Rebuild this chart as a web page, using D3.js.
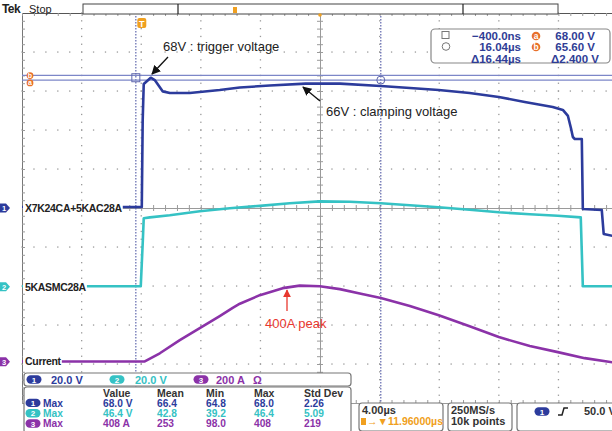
<!DOCTYPE html>
<html><head><meta charset="utf-8">
<script src="https://cdn.jsdelivr.net/npm/d3@7"></script>
<style>
html,body{margin:0;padding:0;background:#fff;}
svg{display:block;font-family:"Liberation Sans",Arial,sans-serif;}
</style></head>
<body><svg id="c" width="612" height="431"></svg>
<script>
// ---------- DATA ----------
// time in microseconds relative to trigger
const ch1Time  = [-8.04,-0.1,0.0,0.06,0.13,0.6,0.87,1.41,1.88,3.22,5.23,6.58,8.59,11.0,13.3,16.04,18.0,19.93,22.0,23.96,25.7,27.58,28.26,28.6,28.8,28.93,29.06,29.53,29.6,30.87,31.0,31.96];
const ch1Volts = [0.5,0.5,0.5,45,63.6,66.8,65.6,59.8,59.0,59.0,60.5,61.8,62.8,63.8,63.8,62.6,61.5,60.5,59.0,56.9,54.4,51.8,50.3,47.2,41.0,36.4,35.4,35.4,-0.5,-1.0,-13.3,-14.9];

const ch2Time  = [-8.04,-0.07,0.07,0.13,0.54,1.88,3.89,5.9,7.92,9.93,11.95,13.96,16.04,17.99,19.93,22.0,23.96,26.04,27.92,29.46,29.6,31.96];
const ch2Volts = [0.3,0.3,23.8,35.1,35.6,36.7,38.7,40.3,41.5,42.8,43.8,43.6,42.8,41.8,40.8,39.5,38.2,37.2,36.4,35.6,0.3,0.3];

const ch3Time  = [-8.04,0.2,1.21,2.55,3.89,5.23,6.1,6.58,7.92,9.46,10.6,11.95,13.29,14.63,16.04,17.99,19.93,22.0,23.96,26.04,27.92,29.73,31.96];
const ch3Amps  = [1,1.5,43,110,172,234,276,297,341,377,390,387,372,349,326,285,238,182,126,80,49,18,-8];

const channelNames = ["X7K24CA+5KAC28A","5KASMC28A","Current"];
const channelScales = ["20.0 V","20.0 V","200 A"];
const cursorTimes = [-0.4, 16.04];
const cursorVolts = [68.0, 65.6];
const cursorReadout = [["−400.0ns","68.00 V"],["16.04µs","65.60 V"],["Δ16.44µs","Δ2.400 V"]];
const measHeader = ["Value","Mean","Min","Max","Std Dev"];
const measRows = [
  ["68.0 V","66.4","64.8","68.0","2.26"],
  ["46.4 V","42.8","39.2","46.4","5.09"],
  ["408 A","253","98.0","408","219"]
];
const annotations = ["68V : trigger voltage","66V : clamping voltage","400A peak"];

// ---------- STYLE ----------
const C1="#2c3b9c", C2="#35c2c4", C3="#8b32a8", ORANGE="#e8702a", CURS="#7d87c8";

const svg = d3.select("#c");
const x = d3.scaleLinear().domain([-8.04,31.96]).range([22,618]);
const yDiv = d3.scaleLinear().domain([-5,5]).range([403,13]);
const ch = [
  {t:ch1Time, v:ch1Volts, per:20, pos:0, color:C1},
  {t:ch2Time, v:ch2Volts, per:20, pos:-2.02, color:C2},
  {t:ch3Time, v:ch3Amps, per:200, pos:-3.94, color:C3}
];
const yOf = (c,val)=> yDiv(c.pos + val/c.per);

// ---------- GRID ----------
const g = svg.append("g");
const majorX = d3.range(-8.04, 32, 4);
const majorY = d3.range(-5, 5.01, 1);
const minorX = d3.range(-8.04, 32, 0.8);
const minorY = d3.range(-5, 5.01, 0.2);
majorX.forEach((t,i)=>{ if(i===0||i===5) return;
  minorY.forEach(d=> g.append("rect").attr("x",x(t)-0.6).attr("y",yDiv(d)-0.6).attr("width",1.3).attr("height",1.3).attr("fill","#9a9a9a"));
});
majorY.forEach((d,i)=>{ if(Math.abs(d)<1e-6||d>4.9||d<-4.9) return;
  minorX.forEach(t=> g.append("rect").attr("x",x(t)-0.6).attr("y",yDiv(d)-0.6).attr("width",1.3).attr("height",1.3).attr("fill","#9a9a9a"));
});
const tCenter = 11.96;
const axes = [
  g.append("g").attr("transform",`translate(0,${yDiv(0)})`).call(d3.axisBottom(x).tickValues(minorX).tickSize(3).tickFormat("")),
  g.append("g").attr("transform",`translate(0,${yDiv(0)})`).call(d3.axisTop(x).tickValues(minorX).tickSize(3).tickFormat("")),
  g.append("g").attr("transform",`translate(${x(tCenter)},0)`).call(d3.axisLeft(yDiv).tickValues(minorY).tickSize(3).tickFormat("")),
  g.append("g").attr("transform",`translate(${x(tCenter)},0)`).call(d3.axisRight(yDiv).tickValues(minorY).tickSize(3).tickFormat("")),
  g.append("g").attr("class","bl").attr("transform",`translate(${x(-8.04)},0)`).call(d3.axisRight(yDiv).tickValues(minorY).tickSize(3).tickFormat("")),
  g.append("g").attr("class","bt").attr("transform",`translate(0,${yDiv(5)})`).call(d3.axisBottom(x).tickValues(minorX).tickSize(3).tickFormat("")),
  g.append("g").attr("transform",`translate(0,${yDiv(-5)})`).call(d3.axisTop(x).tickValues(minorX).tickSize(3).tickFormat(""))
];
axes.forEach(a=>{a.selectAll("path,line").attr("stroke","#9a9a9a").attr("stroke-width",1);});
g.select(".bt path").attr("stroke","#555");
g.select(".bl path").attr("stroke","#777");

// ---------- CURSORS ----------
cursorTimes.forEach(t=> svg.append("line").attr("x1",x(t)).attr("x2",x(t)).attr("y1",16).attr("y2",403)
  .attr("stroke","#5f67ad").attr("stroke-width",1.2).attr("stroke-dasharray","1.5,1.5"));
cursorVolts.forEach(v=> svg.append("line").attr("x1",22).attr("x2",612).attr("y1",yOf(ch[0],v)).attr("y2",yOf(ch[0],v))
  .attr("stroke",CURS).attr("stroke-width",1.3));

// ---------- TRACES ----------
const line = c => d3.line().x((d,i)=>x(c.t[i])).y((d,i)=>yOf(c,c.v[i]));
[ch[2],ch[1],ch[0]].forEach(c=>{
  svg.append("path").datum(c.v).attr("d",line(c)).attr("fill","none").attr("stroke",c.color)
    .attr("stroke-width",2.6).attr("stroke-linejoin","round");
});

svg.append("rect").attr("x",x(cursorTimes[0])-4).attr("y",yOf(ch[0],66.8)-4).attr("width",8).attr("height",8)
  .attr("fill","none").attr("stroke","#5f67ad").attr("stroke-width",1);
svg.append("circle").attr("cx",x(cursorTimes[1])).attr("cy",yOf(ch[0],65.6)).attr("r",4)
  .attr("fill","none").attr("stroke","#5f67ad").attr("stroke-width",1);

// ---------- CHANNEL LABELS ----------
channelNames.forEach((n,i)=>{
  const c = ch[i], yy = yOf(c,0);
  const bg = svg.append("rect").attr("x",23).attr("y",yy-6).attr("height",11).attr("fill","#fff");
  const t = svg.append("text").attr("x",25).attr("y",yy+3.8).attr("font-size",10.5).attr("font-weight","bold")
    .attr("fill","#222").attr("letter-spacing",-0.3).text(n);
  bg.attr("width", t.node().getComputedTextLength()+3);
  svg.append("path").attr("d",`M0,${yy-4.5}L6,${yy-4.5}L10,${yy}L6,${yy+4.5}L0,${yy+4.5}Z`).attr("fill",c.color);
  svg.append("text").attr("x",4).attr("y",yy+3).attr("font-size",7.5).attr("font-weight","bold").attr("fill","#fff")
    .attr("text-anchor","middle").text(i+1);
});

[["b",yOf(ch[0],cursorVolts[1])-4.5],["a",yOf(ch[0],cursorVolts[0])+7.5]].forEach(([l,yy])=>{
  svg.append("circle").attr("cx",30).attr("cy",yy).attr("r",3.4).attr("fill",ORANGE);
  svg.append("text").attr("x",30).attr("y",yy+2.5).attr("font-size",7).attr("font-weight","bold").attr("fill","#fff")
    .attr("text-anchor","middle").text(l);
});

svg.append("rect").attr("x",x(0)-4.5).attr("y",18).attr("width",9).attr("height",10).attr("rx",2).attr("fill","#f0a020");
svg.append("text").attr("x",x(0)).attr("y",26.5).attr("font-size",9).attr("font-weight","bold").attr("fill","#fff").attr("text-anchor","middle").text("T");

// ---------- HEADER ----------
svg.append("text").attr("x",2).attr("y",12.5).attr("font-size",12).attr("font-weight","bold").attr("fill","#222").attr("letter-spacing",-0.6).text("Tek");
svg.append("text").attr("x",29).attr("y",12.5).attr("font-size",11).attr("fill","#222").text("Stop");
svg.append("rect").attr("x",83).attr("y",4).attr("width",475).attr("height",10).attr("fill","#fff").attr("stroke","#444").attr("stroke-width",1);
svg.append("line").attr("x1",178).attr("x2",178).attr("y1",4).attr("y2",14).attr("stroke","#222").attr("stroke-width",1.2);
svg.append("line").attr("x1",463).attr("x2",463).attr("y1",4).attr("y2",14).attr("stroke","#222").attr("stroke-width",1.2);
svg.append("rect").attr("x",233).attr("y",7).attr("width",4).attr("height",6).attr("fill","#f0a020");
svg.append("circle").attr("cx",320).attr("cy",15).attr("r",1.8).attr("fill","#f0a020");

// ---------- ANNOTATIONS ----------
const defs = svg.append("defs");
defs.append("marker").attr("id","ah").attr("viewBox","0 0 10 10").attr("refX",9).attr("refY",5)
  .attr("markerWidth",7).attr("markerHeight",7).attr("orient","auto")
  .append("path").attr("d","M0,0L10,5L0,10Z").attr("fill","#111");
defs.append("marker").attr("id","ahr").attr("viewBox","0 0 10 10").attr("refX",9).attr("refY",5)
  .attr("markerWidth",6).attr("markerHeight",6).attr("orient","auto")
  .append("path").attr("d","M0,0L10,5L0,10Z").attr("fill","#e8382f");
svg.append("text").attr("x",163).attr("y",51).attr("font-size",13).attr("fill","#222").text(annotations[0]);
svg.append("line").attr("x1",168).attr("y1",57).attr("x2",152).attr("y2",74).attr("stroke","#111").attr("stroke-width",1.3).attr("marker-end","url(#ah)");
svg.append("text").attr("x",326).attr("y",116).attr("font-size",13).attr("fill","#222").text(annotations[1]);
svg.append("line").attr("x1",320).attr("y1",101).attr("x2",303).attr("y2",87).attr("stroke","#111").attr("stroke-width",1.3).attr("marker-end","url(#ah)");
svg.append("text").attr("x",265).attr("y",328).attr("font-size",13).attr("fill","#e8382f").text(annotations[2]);
svg.append("line").attr("x1",287).attr("y1",311).attr("x2",287).attr("y2",290).attr("stroke","#e8382f").attr("stroke-width",1.3).attr("marker-end","url(#ahr)");

// ---------- CURSOR READOUT ----------
svg.append("rect").attr("x",431).attr("y",29).attr("width",179).attr("height",34).attr("rx",4).attr("fill","#fff").attr("stroke","#888").attr("stroke-width",1.2);
svg.append("rect").attr("x",442).attr("y",31.5).attr("width",7).attr("height",7).attr("fill","none").attr("stroke","#777");
svg.append("circle").attr("cx",446).attr("cy",46.5).attr("r",3.8).attr("fill","none").attr("stroke","#777");
[["a",36],["b",47]].forEach(([l,yy])=>{
  svg.append("circle").attr("cx",536).attr("cy",yy).attr("r",4.3).attr("fill",ORANGE);
  svg.append("text").attr("x",536).attr("y",yy+3).attr("font-size",8.5).attr("font-weight","bold").attr("fill","#fff").attr("text-anchor","middle").text(l);
});
cursorReadout.forEach((r,i)=>{
  const yy = 40 + i*11.3;
  svg.append("text").attr("x",521).attr("y",yy).attr("text-anchor","end").attr("font-size",11.5).attr("font-weight","bold").attr("fill","#2f3d96").text(r[0]);
  svg.append("text").attr("x",i===2?599:595).attr("y",yy).attr("text-anchor","end").attr("font-size",11.5).attr("font-weight","bold").attr("fill","#2f3d96").text(r[1]);
});

// ---------- BOTTOM PANELS ----------
const pill = (cx,cy,col,n)=>{
  svg.append("rect").attr("x",cx-7.5).attr("y",cy-4.2).attr("width",15).attr("height",8.4).attr("rx",4.2).attr("fill",col);
  svg.append("text").attr("x",cx).attr("y",cy+3).attr("font-size",8).attr("font-weight","bold").attr("fill","#fff").attr("text-anchor","middle").text(n);
};
svg.append("rect").attr("x",24).attr("y",373).attr("width",327).attr("height",13).attr("rx",3).attr("fill","#fff").attr("stroke","#777").attr("stroke-width",1.2);
const scaleX = [[34,51],[117,135],[201,216]];
const cols = [C1,C2,C3];
channelScales.forEach((s,i)=>{
  pill(scaleX[i][0],379.5,cols[i],i+1);
  svg.append("text").attr("x",scaleX[i][1]).attr("y",383.5).attr("font-size",11).attr("font-weight","bold").attr("fill",cols[i]).text(s);
});
svg.append("text").attr("x",253).attr("y",383.5).attr("font-size",11).attr("font-weight","bold").attr("fill",C3).text("Ω");

svg.append("rect").attr("x",24).attr("y",387).attr("width",327).attr("height",46).attr("rx",3).attr("fill","#fff").attr("stroke","#777").attr("stroke-width",1.2);
const colX = [103,157,206,254,304];
measHeader.forEach((h,i)=> svg.append("text").attr("x",colX[i]).attr("y",396.5).attr("font-size",10.5).attr("font-weight","bold").attr("fill","#333").text(h));
measRows.forEach((r,j)=>{
  const yy = 406.5 + j*10.3;
  pill(33,yy-3.6,cols[j],j+1);
  svg.append("text").attr("x",43).attr("y",yy).attr("font-size",10.2).attr("font-weight","bold").attr("fill",cols[j]).text("Max");
  r.forEach((v,i)=> svg.append("text").attr("x",colX[i]).attr("y",yy).attr("font-size",10.2).attr("font-weight","bold").attr("fill",cols[j]).text(v));
});

svg.append("rect").attr("x",359).attr("y",403).attr("width",84).attr("height",28).attr("rx",3).attr("fill","#fff").attr("stroke","#777").attr("stroke-width",1.2);
svg.append("text").attr("x",362).attr("y",414).attr("font-size",11).attr("font-weight","bold").attr("fill","#333").text("4.00µs");
svg.append("rect").attr("x",361).attr("y",418).attr("width",5).attr("height",7).attr("fill","#f0a020");
svg.append("text").attr("x",367).attr("y",425).attr("font-size",10.5).attr("font-weight","bold").attr("fill","#f0a020").text("→▼11.96000µs");
svg.append("rect").attr("x",448).attr("y",403).attr("width",64).attr("height",28).attr("rx",3).attr("fill","#fff").attr("stroke","#777").attr("stroke-width",1.2);
svg.append("text").attr("x",451).attr("y",414).attr("font-size",11).attr("font-weight","bold").attr("fill","#333").text("250MS/s");
svg.append("text").attr("x",451).attr("y",425).attr("font-size",11).attr("font-weight","bold").attr("fill","#333").text("10k points");
svg.append("rect").attr("x",517).attr("y",403).attr("width",100).attr("height",28).attr("rx",3).attr("fill","#fff").attr("stroke","#777").attr("stroke-width",1.2);
pill(542,411.5,C1,1);
svg.append("path").attr("d","M558,415 L562,415 L564,408 L568,408").attr("fill","none").attr("stroke","#222").attr("stroke-width",1.5);
svg.append("text").attr("x",584).attr("y",415).attr("font-size",11).attr("font-weight","bold").attr("fill","#333").text("50.0 V");
</script></body></html>
